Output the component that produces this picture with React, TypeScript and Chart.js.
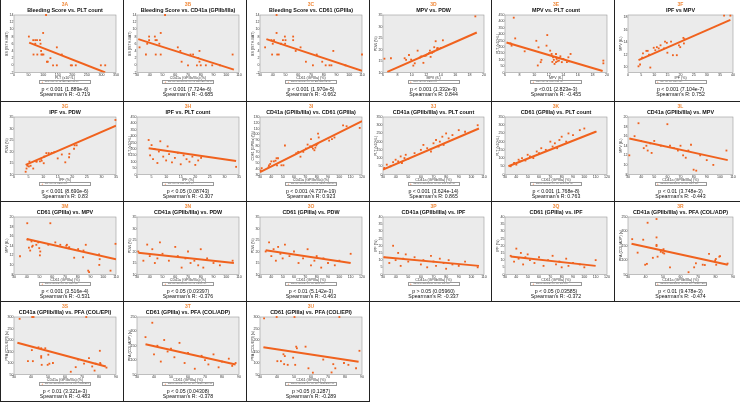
import React, { useEffect, useRef } from "react";
import { Chart, registerables } from "chart.js";
Chart.register(...registerables);

const ORANGE = "#f0621e";
const FONT = "'Liberation Sans', Arial, sans-serif";

// ---- tick label arrays ----
const tPLT350 = [0, 50, 100, 150, 200, 250, 300, 350];
const tBS = [-2, 0, 2, 4, 6, 8, 10, 12, 14];
const tCD30_110 = [30, 40, 50, 60, 70, 80, 90, 100, 110];
const tCD30_120 = [30, 40, 50, 60, 70, 80, 90, 100, 110, 120];
const tCD30_90 = [30, 40, 50, 60, 70, 80, 90];
const tMPV6_20 = [6, 8, 10, 12, 14, 16, 18, 20];
const tPDW = [10, 15, 20, 25, 30, 35];
const tPLT450 = [0, 50, 100, 150, 200, 250, 300, 350, 400, 450];
const tIPF40 = [0, 5, 10, 15, 20, 25, 30, 35, 40];
const tIPF35 = [0, 5, 10, 15, 20, 25, 30, 35];
const tMPV10_18 = [10, 12, 14, 16, 18];
const tCD61_30_130 = [30, 40, 50, 60, 70, 80, 90, 100, 110, 120, 130];
const tMPV8_20 = [8, 10, 12, 14, 16, 18, 20];
const tIPFy = [0, 5, 10, 15, 20, 25, 30, 35, 40];
const tPFA250 = [50, 100, 150, 200, 250];
const tPFA300 = [50, 100, 150, 200, 250, 300];

// ---- 3A ----
const xA = [51, 66, 73, 79, 89, 73, 100, 91, 67, 80, 94, 97, 101, 93, 113, 116, 125, 134, 147, 147, 164, 195, 199, 212, 298, 313, 110];
const yA = [8, 7, 7, 7, 7, 6, 9, 6, 3, 3, 3, 3, 3, 4, 1, 1, 2, 0, 0, 5, 3, 0, 0, 0, 0, 0, 14];
const lxA = [52, 313]; const lyA = [6.3, -2];
// ---- 3B ----
const xB = [32, 37, 38, 39.5, 39.5, 44, 44.5, 45.5, 44.7, 47.5, 48.6, 48.6, 62, 64, 65, 70, 72, 74, 77, 78, 79, 79, 80, 84, 89, 95, 105, 52];
const yB = [5, 3, 6, 8, 7, 8, 7, 7, 3, 6, 9, 3, 5, 4, 1, 0, 3, 3, 0, 2, 4, 1, 0, 0, 0, 0, 3, 14];
const lxB = [31, 106]; const lyB = [7.3, -1.2];
// ---- 3C ----
const xC = [34, 39, 40, 39.5, 41, 43, 43.5, 44.7, 46.5, 48, 49.5, 49.7, 50, 56, 56, 58, 61.8, 66, 71.5, 74.5, 78.8, 81.5, 84.5, 86, 87.5, 97, 110, 43];
const yC = [5, 7, 6, 3, 7, 9, 3, 3, 6, 7, 8, 6, 7, 8, 7, 4, 5, 1, 0, 3, 1, 0, 0, 0, 4, 0, 3, 14];
const lxC = [35, 110]; const lyC = [7.3, -1.5];
// ---- 3D ----
const xD = [6.2, 7.1, 9.0, 9.2, 9.6, 9.9, 10.2, 10.4, 10.8, 11.1, 11.3, 11.6, 11.8, 12.0, 12.2, 12.4, 12.5, 12.6, 12.8, 13.0, 13.1, 13.3, 13.5, 13.6, 14.0, 14.3, 18.8];
const yD = [16.0, 16.2, 16.2, 15.5, 17.6, 15.6, 13.0, 14.0, 19.5, 16.5, 17.0, 14.2, 17.2, 17.4, 18.0, 18.5, 19.5, 16.8, 18.6, 19.0, 21.0, 23.6, 20.5, 20.6, 20.6, 24.0, 34.4];
const lxD = [6.6, 19.0]; const lyD = [10.3, 27.4];
// ---- 3E ----
const xE = [7.2, 7.4, 6.75, 8.7, 10.3, 10.6, 10.5, 10.9, 11.0, 11.8, 11.7, 12.2, 12.4, 12.6, 12.5, 12.7, 12.8, 13.0, 13.0, 13.0, 13.1, 13.2, 13.4, 13.5, 13.6, 13.8, 14.0, 14.5, 14.7, 14.8, 15.0, 19.5, 19.5, 6.9];
const yE = [429, 267, 228, 166, 248, 197, 55, 81, 99, 293, 210, 171, 145, 119, 83, 99, 67, 81, 119, 145, 106, 88, 93, 114, 127, 81, 106, 81, 119, 88, 145, 93, 72, 210];
const lxE = [6.2, 19.4]; const lyE = [235, 12];
// ---- 3F ----
const xF = [4, 4.6, 5.4, 5.7, 7, 7.5, 8, 8.5, 9.8, 10.4, 11, 11.7, 12.4, 13.7, 14.1, 14.8, 15, 16.4, 17.1, 18.6, 19.4, 19.9, 21.1, 21.3, 21.5, 36.6, 39];
const yF = [10.1, 10.4, 11.5, 12.2, 12.6, 12.6, 12, 9.9, 13.1, 12.7, 13.2, 13, 13.5, 13, 14.1, 13.9, 12.3, 14.1, 11.9, 11.9, 13.5, 13.2, 14.7, 13.8, 14.5, 18.3, 18.3];
const lxF = [4, 39]; const lyF = [11.1, 17.6];
// ---- 3G ----
const xG = [4, 4.3, 4.6, 5.1, 5.3, 5.7, 6.6, 7.6, 7.8, 8.9, 9.3, 9.5, 10.2, 10.4, 11.1, 11.9, 12.9, 13.8, 15, 16.4, 17.6, 18.9, 19, 20.6, 20.8, 21.5, 34.8];
const yG = [11.2, 12.6, 13.8, 13.5, 15.6, 13.8, 12.6, 15.7, 15.6, 15.7, 16.8, 16, 14.9, 17.8, 19.3, 19.3, 19.4, 19.7, 17, 18.7, 15.3, 17.5, 19, 21.2, 22.7, 22.7, 33.7];
const lxG = [4, 35]; const lyG = [14.2, 31.2];
// ---- 3H ----
const xH = [4, 4.5, 5, 5.5, 6, 7, 7.5, 8, 9, 10, 10.5, 11, 12, 13, 14, 15, 16, 17, 18, 19, 20, 21, 22, 34];
const yH = [270, 150, 230, 120, 200, 90, 180, 260, 140, 110, 220, 160, 95, 130, 170, 80, 150, 120, 100, 140, 75, 110, 130, 60];
const lxH = [4, 34]; const lyH = [205, 105];
// ---- 3I ----
const xI = [30.6, 31.5, 37.6, 37.9, 39, 40, 42.2, 43.7, 44.6, 45.9, 45, 48.9, 50.7, 52, 62, 63.7, 65.7, 68.2, 70.5, 72, 74.2, 75, 75.8, 76.7, 78, 78.8, 79.7, 80.6, 81.2, 81.8, 91, 93.5, 95.7, 103.3, 106.4, 118];
const yI = [37, 41, 42.8, 45.6, 48.3, 52.8, 52.8, 54, 58.3, 58.3, 46, 46, 46, 80.5, 67, 69.4, 61, 69.4, 75, 82, 78.9, 91.6, 77.8, 75, 72.2, 76.7, 80.6, 83.3, 101, 94.4, 88.9, 91.6, 94.4, 115.5, 113.9, 111];
const lxI = [30, 120]; const lyI = [34, 123];
// ---- 3J ----
const xJ = [31, 33, 36, 38, 40, 42, 44, 45, 47, 48, 50, 55, 60, 62, 65, 68, 70, 72, 74, 75, 77, 78, 80, 82, 85, 90, 95, 105];
const yJ = [40, 60, 50, 75, 90, 80, 110, 70, 100, 120, 95, 130, 150, 180, 160, 140, 190, 210, 170, 200, 230, 180, 250, 220, 240, 270, 260, 300];
const lxJ = [30, 106]; const lyJ = [30, 280];
// ---- 3K ----
const xK = [35, 38, 40, 42, 43, 45, 48, 50, 52, 55, 58, 60, 62, 66, 70, 72, 74, 76, 78, 80, 84, 86, 90, 96, 100, 110];
const yK = [50, 70, 60, 90, 80, 100, 85, 120, 110, 100, 140, 130, 160, 150, 200, 170, 190, 160, 210, 230, 200, 250, 240, 270, 280, 260];
const lxK = [33, 110]; const lyK = [50, 260];
// ---- 3L ----
const xL = [31, 35, 38, 40, 42, 44, 45, 47, 48, 50, 55, 60, 62, 65, 68, 70, 72, 74, 76, 78, 80, 82, 85, 90, 95, 105];
const yL = [12, 16, 18.7, 15, 13.5, 14, 13, 14.5, 12.5, 15, 14, 18.5, 14, 13.5, 13, 14, 12, 11.5, 13, 14.2, 9, 8.8, 12, 11, 10, 13];
const lxL = [31, 106]; const lyL = [15.5, 11];
// ---- 3M ----
const xM = [34.7, 40.4, 40.6, 41.7, 42.7, 43.7, 44.2, 44.7, 46.4, 47.5, 49, 49.8, 50.3, 50.6, 56.9, 58.5, 62.4, 66.3, 71, 71.5, 72.8, 73.3, 77.2, 80.3, 84.2, 84.5, 86.3, 88.2, 88.9, 96.7, 97.2, 96.9, 105.7, 109.6];
const yM = [11.8, 18.7, 15.3, 13.6, 13, 14.9, 13.8, 14, 15, 14.2, 14.7, 13.5, 12, 12.8, 14.2, 18.7, 14.7, 14.2, 14, 14.2, 13.5, 13.7, 11.5, 13.3, 11.6, 13, 14.2, 8.8, 8.5, 12.2, 11.2, 10, 8.8, 14.4];
const lxM = [40, 110]; const lyM = [15.4, 11.2];
// ---- 3N ----
const xN = [31, 35, 38, 40, 42, 44, 46, 48, 50, 55, 60, 62, 65, 68, 70, 72, 75, 78, 80, 82, 85, 90, 95, 105];
const yN = [20, 16, 23, 18, 21, 15, 17, 24, 19, 16, 22, 18, 13, 17, 20, 15, 16, 14, 21, 13, 17, 15, 14, 16];
const lxN = [31, 106]; const lyN = [19.5, 15];
// ---- 3O ----
const xO = [35, 38, 40, 42, 44, 46, 48, 50, 52, 56, 60, 64, 68, 72, 75, 78, 80, 84, 86, 90, 96, 100, 110];
const yO = [20, 24, 18, 21, 16, 22, 19, 17, 23, 18, 20, 15, 17, 21, 14, 16, 18, 13, 17, 15, 14, 16, 19];
const lxO = [35, 110]; const lyO = [20.5, 15];
// ---- 3P ----
const xP = [31, 35, 38, 40, 42, 44, 46, 48, 50, 55, 60, 62, 65, 68, 70, 72, 75, 78, 80, 82, 85, 90, 95, 105];
const yP = [12, 8, 20, 10, 15, 6, 11, 14, 9, 12, 7, 10, 5, 13, 9, 6, 11, 8, 4, 10, 7, 6, 9, 5];
const lxP = [31, 106]; const lyP = [12, 6];
// ---- 3Q ----
const xQ = [35, 38, 40, 42, 44, 46, 48, 50, 52, 56, 60, 64, 68, 72, 75, 78, 80, 84, 86, 90, 96, 100, 110];
const yQ = [13, 9, 18, 11, 15, 7, 12, 14, 10, 8, 12, 6, 10, 13, 7, 9, 5, 11, 6, 8, 7, 5, 10];
const lxQ = [35, 110]; const lyQ = [12.5, 6];
// ---- 3R ----
const xR = [32.4, 38.7, 35.5, 39.8, 40.8, 41.2, 44.2, 46.3, 46.3, 46.3, 46.9, 48.7, 49.3, 49.9, 50.3, 50.7, 54, 46.3, 64.6, 67.8, 68.8, 72.7, 73.9, 76.3, 79.8, 80.2, 80.4, 82.2, 82.6, 86.9];
const yR = [173, 171, 126, 84, 87, 230, 108, 179, 153, 149, 112, 129, 134, 126, 138, 123, 75, 243, 58, 75, 89, 84, 83, 122, 99, 104, 84, 112, 114, 88];
const lxR = [32, 87]; const lyR = [157, 84];
// ---- 3S ----
const xS = [33.3, 40.7, 41.5, 72.5, 38.2, 40.5, 41.1, 44.4, 46, 46, 46, 46.3, 48.4, 49.8, 50.2, 50.8, 52.9, 63.4, 66.3, 67.7, 71.2, 74.1, 76, 77.4, 78, 80.5, 80.7, 80.9, 84.4];
const yS = [292, 300, 300, 300, 108, 156, 108, 168, 164, 130, 123, 92, 164, 92, 136, 97, 100, 62, 82, 115, 97, 121, 85, 67, 97, 153, 100, 95, 80];
const lxS = [32, 84]; const lyS = [188, 85];
// ---- 3T ----
const xT = [35, 39, 40, 42, 44, 46, 48, 50, 52, 55, 58, 60, 64, 68, 70, 72, 75, 78, 80, 84, 86, 88];
const yT = [180, 230, 120, 150, 95, 170, 130, 140, 110, 160, 90, 125, 70, 115, 100, 85, 120, 75, 95, 105, 80, 90];
const lxT = [35, 88]; const lyT = [155, 85];
// ---- 3U ----
const xU = [32.4, 39.8, 50.3, 76.7, 40.2, 42.3, 43.8, 44.6, 44.2, 46.3, 49.5, 50.7, 51.3, 51.7, 56.8, 58.5, 61.1, 67.2, 72.1, 73.1, 74.3, 79.4, 82, 86.5, 88.5];
const yU = [294, 300, 300, 300, 108, 108, 138, 130, 95, 92, 123, 92, 171, 164, 171, 77, 58, 115, 59, 95, 77, 100, 92, 77, 153];
const lxU = [32, 88]; const lyU = [168, 105];

type P = {
  id: string; title: string; xt: string; yt: string;
  xr: number[]; yr: number[]; xticks: number[]; yticks: number[];
  xs: number[]; ys: number[]; lx: number[]; ly: number[];
  p: string; r: string;
};

const CD41 = "CD41a (GPIIb/IIIa) (%)";
const CD61 = "CD61 (GPIIIa) (%)";
const PLT = "PLT (x10⁹/L)";
const BS = "BS (ISTH-BAT)";
const MPV = "MPV (fL)";
const PDW = "PDW (%)";
const IPF = "IPF (%)";

const panels: P[] = [
  { id: "3A", title: "Bleeding Score vs. PLT count", xt: PLT, yt: BS, xr: [0, 350], yr: [-2, 14], xticks: tPLT350, yticks: tBS, xs: xA, ys: yA, lx: lxA, ly: lyA, p: "p < 0.001 (1.889e-6)", r: "Spearman's R: -0.719" },
  { id: "3B", title: "Bleeding Score vs. CD41a (GPIIb/IIIa)", xt: CD41, yt: BS, xr: [30, 110], yr: [-2, 14], xticks: tCD30_110, yticks: tBS, xs: xB, ys: yB, lx: lxB, ly: lyB, p: "p < 0.001 (7.724e-6)", r: "Spearman's R: -0.685" },
  { id: "3C", title: "Bleeding Score vs. CD61 (GPIIIa)", xt: CD61, yt: BS, xr: [30, 110], yr: [-2, 14], xticks: tCD30_110, yticks: tBS, xs: xC, ys: yC, lx: lxC, ly: lyC, p: "p < 0.001 (1.970e-5)", r: "Spearman's R: -0.662" },
  { id: "3D", title: "MPV vs. PDW", xt: MPV, yt: PDW, xr: [6, 20], yr: [10, 35], xticks: tMPV6_20, yticks: tPDW, xs: xD, ys: yD, lx: lxD, ly: lyD, p: "p < 0.001 (1.332e-9)", r: "Spearman's R: 0.844" },
  { id: "3E", title: "MPV vs. PLT count", xt: MPV, yt: PLT, xr: [6, 20], yr: [0, 450], xticks: tMPV6_20, yticks: tPLT450, xs: xE, ys: yE, lx: lxE, ly: lyE, p: "p <0.01 (2.823e-3)", r: "Spearman's R: -0.455" },
  { id: "3F", title: "IPF vs MPV", xt: IPF, yt: MPV, xr: [0, 40], yr: [9.1, 18.4], xticks: tIPF40, yticks: tMPV10_18, xs: xF, ys: yF, lx: lxF, ly: lyF, p: "p < 0.001 (7.104e-7)", r: "Spearman's R: 0.752" },
  { id: "3G", title: "IPF vs. PDW", xt: IPF, yt: PDW, xr: [0, 35], yr: [10, 35], xticks: tIPF35, yticks: tPDW, xs: xG, ys: yG, lx: lxG, ly: lyG, p: "p < 0.001 (8.690e-6)", r: "Spearman's R: 0.83" },
  { id: "3H", title: "IPF vs. PLT count", xt: IPF, yt: PLT, xr: [0, 35], yr: [0, 450], xticks: tIPF35, yticks: tPLT450, xs: xH, ys: yH, lx: lxH, ly: lyH, p: "p < 0.05 (0.08743)", r: "Spearman's R: -0.307" },
  { id: "3I", title: "CD41a (GPIIb/IIIa) vs. CD61 (GPIIIa)", xt: CD41, yt: CD61, xr: [30, 120], yr: [30, 130], xticks: tCD30_120, yticks: tCD61_30_130, xs: xI, ys: yI, lx: lxI, ly: lyI, p: "p < 0.001 (4.737e-19)", r: "Spearman's R: 0.923" },
  { id: "3J", title: "CD41a (GPIIb/IIIa) vs. PLT count", xt: CD41, yt: PLT, xr: [30, 110], yr: [0, 350], xticks: tCD30_110, yticks: tPLT350, xs: xJ, ys: yJ, lx: lxJ, ly: lyJ, p: "p < 0.001 (3.624e-14)", r: "Spearman's R: 0.865" },
  { id: "3K", title: "CD61 (GPIIIa) vs. PLT count", xt: CD61, yt: PLT, xr: [30, 120], yr: [0, 350], xticks: tCD30_120, yticks: tPLT350, xs: xK, ys: yK, lx: lxK, ly: lyK, p: "p < 0.001 (1.768e-8)", r: "Spearman's R: 0.763" },
  { id: "3L", title: "CD41a (GPIIb/IIIa) vs. MPV", xt: CD41, yt: MPV, xr: [30, 110], yr: [8, 20], xticks: tCD30_110, yticks: tMPV8_20, xs: xL, ys: yL, lx: lxL, ly: lyL, p: "p < 0.01 (3.748e-3)", r: "Spearman's R: -0.443" },
  { id: "3M", title: "CD61 (GPIIIa) vs. MPV", xt: CD61, yt: MPV, xr: [30, 110], yr: [8, 20], xticks: tCD30_110, yticks: tMPV8_20, xs: xM, ys: yM, lx: lxM, ly: lyM, p: "p < 0.001 (3.516e-4)", r: "Spearman's R: -0.531" },
  { id: "3N", title: "CD41a (GPIIb/IIIa) vs. PDW", xt: CD41, yt: PDW, xr: [30, 110], yr: [10, 35], xticks: tCD30_110, yticks: tPDW, xs: xN, ys: yN, lx: lxN, ly: lyN, p: "p < 0.05 (0.03397)", r: "Spearman's R: -0.376" },
  { id: "3O", title: "CD61 (GPIIIa) vs. PDW", xt: CD61, yt: PDW, xr: [30, 120], yr: [10, 35], xticks: tCD30_120, yticks: tPDW, xs: xO, ys: yO, lx: lxO, ly: lyO, p: "p < 0.01 (5.142e-3)", r: "Spearman's R: -0.463" },
  { id: "3P", title: "CD41a (GPIIb/IIIa) vs. IPF", xt: CD41, yt: IPF, xr: [30, 110], yr: [0, 40], xticks: tCD30_110, yticks: tIPFy, xs: xP, ys: yP, lx: lxP, ly: lyP, p: "p > 0.05 (0.05960)", r: "Spearman's R: -0.337" },
  { id: "3Q", title: "CD61 (GPIIIa) vs. IPF", xt: CD61, yt: IPF, xr: [30, 120], yr: [0, 40], xticks: tCD30_120, yticks: tIPFy, xs: xQ, ys: yQ, lx: lxQ, ly: lyQ, p: "p < 0.05 (0.03585)", r: "Spearman's R: -0.372" },
  { id: "3R", title: "CD41a (GPIIb/IIIa) vs. PFA (COL/ADP)", xt: CD41, yt: "PFA (COL/ADP) (s)", xr: [30, 90], yr: [50, 250], xticks: tCD30_90, yticks: tPFA250, xs: xR, ys: yR, lx: lxR, ly: lyR, p: "p < 0.01 (9.478e-3)", r: "Spearman's R: -0.474" },
  { id: "3S", title: "CD41a (GPIIb/IIIa) vs. PFA (COL/EPI)", xt: CD41, yt: "PFA (COL/EPI) (s)", xr: [30, 90], yr: [50, 300], xticks: tCD30_90, yticks: tPFA300, xs: xS, ys: yS, lx: lxS, ly: lyS, p: "p < 0.01 (3.321e-3)", r: "Spearman's R: -0.483" },
  { id: "3T", title: "CD61 (GPIIIa) vs. PFA (COL/ADP)", xt: CD61, yt: "PFA (COL/ADP) (s)", xr: [30, 90], yr: [50, 250], xticks: tCD30_90, yticks: tPFA250, xs: xT, ys: yT, lx: lxT, ly: lyT, p: "p < 0.05 (0.04308)", r: "Spearman's R: -0.378" },
  { id: "3U", title: "CD61 (GPIIIa) vs. PFA (COL/EPI)", xt: CD61, yt: "PFA (COL/EPI) (s)", xr: [30, 90], yr: [50, 300], xticks: tCD30_90, yticks: tPFA300, xs: xU, ys: yU, lx: lxU, ly: lyU, p: "p >0.05 (0.1287)", r: "Spearman's R: -0.289" },
];

const COL_LEFT = [0, 123, 246, 369, 491, 614, 740];
const ROW_TOP = [0, 101, 201, 301, 401];
const PLOT_L = 13, PLOT_R_GAP = 7, PLOT_T = 15, CANVAS_H = 80, XAX_H = 7.5;

const bgPlugin = {
  id: "bgbox",
  beforeDatasetsDraw(chart: any) {
    const { ctx, chartArea: a } = chart;
    ctx.save();
    ctx.fillStyle = "#ebebeb";
    ctx.fillRect(a.left, a.top, a.right - a.left, a.bottom - a.top);
    ctx.strokeStyle = "#9a9a9a";
    ctx.lineWidth = 0.6;
    ctx.strokeRect(a.left, a.top, a.right - a.left, a.bottom - a.top);
    ctx.restore();
  },
};

function PanelView({ p, left, top, w }: { p: P; left: number; top: number; w: number }) {
  const ref = useRef<HTMLCanvasElement>(null);
  useEffect(() => {
    const chart = new Chart(ref.current as HTMLCanvasElement, {
      type: "scatter",
      data: {
        datasets: [
          {
            type: "line",
            data: p.lx.map((x, i) => ({ x, y: p.ly[i] })),
            borderColor: ORANGE,
            borderWidth: 2,
            pointRadius: 0,
            fill: false,
          } as any,
          {
            data: p.xs.map((x, i) => ({ x, y: p.ys[i] })),
            pointStyle: "rect",
            pointRadius: 1.3,
            backgroundColor: ORANGE,
            borderColor: ORANGE,
            borderWidth: 0,
            clip: false,
          } as any,
        ],
      },
      options: {
        animation: false,
        responsive: false,
        events: [],
        layout: { padding: { left: 0, right: PLOT_R_GAP, top: PLOT_T, bottom: 0 } },
        plugins: { legend: { display: false }, tooltip: { enabled: false } },
        scales: {
          x: {
            type: "linear",
            min: p.xr[0],
            max: p.xr[1],
            afterBuildTicks: (s: any) => { s.ticks = p.xticks.map((v) => ({ value: v })); },
            afterFit: (s: any) => { s.height = XAX_H; },
            ticks: { font: { size: 3.6, family: FONT }, color: "#333", padding: 0.6, maxRotation: 0, autoSkip: false, callback: (v: any) => String(v) },
            grid: { display: false, drawTicks: false },
            border: { display: false },
            title: { display: true, text: p.xt, font: { size: 3.6, family: FONT }, color: "#333", padding: 0 },
          },
          y: {
            type: "linear",
            min: p.yr[0],
            max: p.yr[1],
            afterBuildTicks: (s: any) => { s.ticks = p.yticks.map((v) => ({ value: v })); },
            afterFit: (s: any) => { s.width = PLOT_L; },
            ticks: { font: { size: 3.6, family: FONT }, color: "#333", padding: 0.6, autoSkip: false, callback: (v: any) => String(v) },
            grid: { display: false, drawTicks: false },
            border: { display: false },
            title: { display: true, text: p.yt, font: { size: 3.6, family: FONT }, color: "#333", padding: { top: 3.4, bottom: 0 } },
          },
        },
      } as any,
      plugins: [bgPlugin],
    });
    return () => chart.destroy();
  }, [p, w]);

  const cx = PLOT_L + (w - PLOT_L - PLOT_R_GAP) / 2;
  const txt = (y: number, content: string, style: React.CSSProperties) => (
    <div style={{ position: "absolute", left: cx - 70, width: 140, top: y, textAlign: "center", whiteSpace: "nowrap", fontFamily: FONT, lineHeight: 1, ...style }}>{content}</div>
  );
  return (
    <div style={{ position: "absolute", left, top, width: w, height: 100 }}>
      <canvas ref={ref} width={w} height={CANVAS_H} style={{ position: "absolute", left: 0, top: 0, width: w, height: CANVAS_H }} />
      {txt(1.8, p.id, { fontSize: 5, fontWeight: 700, color: "#f08a3c" })}
      {txt(7.6, p.title, { fontSize: 5.4, fontWeight: 700, color: "#111" })}
      <div style={{ position: "absolute", left: cx - 26, top: 80, width: 52, height: 3.8, border: "0.5px solid #999", background: "#fff", boxSizing: "border-box", display: "flex", alignItems: "center", fontFamily: FONT, fontSize: 2.4, color: "#555", whiteSpace: "nowrap", overflow: "hidden" }}>
        <span style={{ color: ORANGE, fontSize: 3, margin: "0 1.5px 0 1.5px" }}>+</span>
        <span>{p.xt} vs. {p.yt}</span>
      </div>
      {txt(86.5, p.p, { fontSize: 5.2, color: "#111" })}
      {txt(92.2, p.r, { fontSize: 5.2, color: "#111" })}
    </div>
  );
}

export default function App() {
  const lines: React.ReactNode[] = [];
  const L = (k: string, x: number, y: number, w: number, h: number) =>
    lines.push(<div key={k} style={{ position: "absolute", left: x, top: y, width: w, height: h, background: "#222" }} />);
  L("h1", 0, 101, 740, 1);
  L("h2", 0, 201, 740, 1);
  L("h3", 0, 301, 740, 1);
  L("h4", 0, 401, 369, 1);
  [123, 246, 369].forEach((x, i) => L("va" + i, x, 0, 1, 402));
  [491, 614].forEach((x, i) => L("vb" + i, x, 0, 1, 302));
  L("v0", 0, 0, 1, 402);

  return (
    <div style={{ position: "fixed", left: 0, top: 0, width: 740, height: 416, background: "#fff", overflow: "hidden" }}>
      {panels.map((p, i) => {
        const c = i % 6, r = Math.floor(i / 6);
        const left = COL_LEFT[c] + 1;
        const w = COL_LEFT[c + 1] - COL_LEFT[c] - 1;
        return <PanelView key={p.id} p={p} left={left} top={ROW_TOP[r] + (r === 0 ? 0 : 1)} w={w} />;
      })}
      {lines}
    </div>
  );
}
